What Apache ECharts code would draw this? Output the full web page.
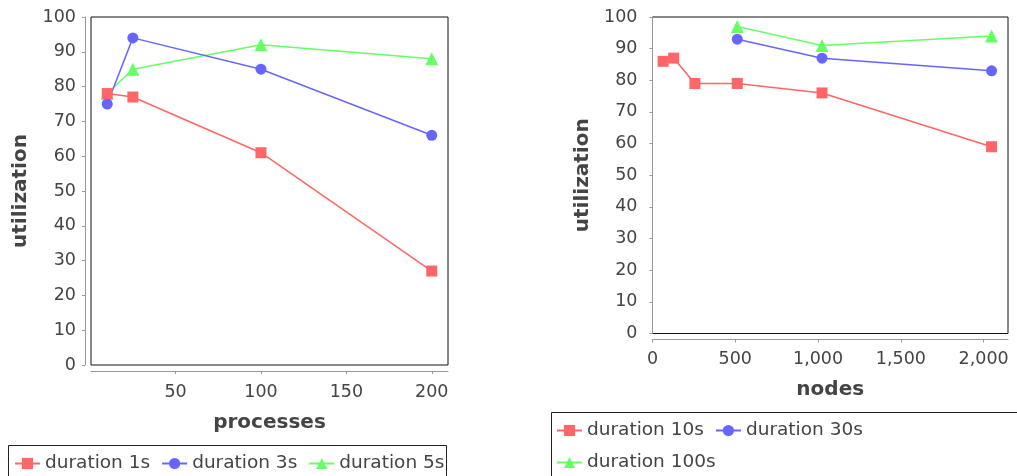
<!DOCTYPE html>
<html>
<head>
<meta charset="utf-8">
<script src="https://cdn.jsdelivr.net/npm/echarts@6/dist/echarts.min.js"></script>
<style>html,body{margin:0;padding:0;background:#fff}#c{width:1017px;height:476px}</style>
</head>
<body>
<div id="c"></div>
<script>
// Left chart: utilization vs processes
const leftX = [10, 25, 100, 200];
const left1s = [78, 77, 61, 27];
const left3s = [75, 94, 85, 66];
const left5s = [78, 85, 92, 88];
const leftXTicks = [50, 100, 150, 200];
// Right chart: utilization vs nodes
const rightX10 = [64, 128, 256, 512, 1024, 2048];
const right10s = [86, 87, 79, 79, 76, 59];
const rightX30 = [512, 1024, 2048];
const right30s = [93, 87, 83];
const rightX100 = [512, 1024, 2048];
const right100s = [97, 91, 94];

const leftNames = ['duration 1s', 'duration 3s', 'duration 5s'];
const rightNames = ['duration 10s', 'duration 30s', 'duration 100s'];

const RED = '#ff6666', BLUE = '#6666ff', GREEN = '#66ff66';
const FONT = 'DejaVu Sans';
const TXT = '#444';
const pair = (xs, ys) => xs.map((x, i) => [x, ys[i]]);

function yAxis(gi) {
  return {
    type: 'value', gridIndex: gi, min: 0, max: 100, interval: 10, offset: 6,
    name: 'utilization', nameLocation: 'middle', nameGap: 54,
    nameTextStyle: {fontFamily: FONT, fontSize: 20, fontWeight: 'bold', color: TXT},
    axisLine: {show: true, lineStyle: {color: '#999', width: 1}},
    axisTick: {show: true, length: 3, lineStyle: {color: '#999'}},
    axisLabel: {fontFamily: FONT, fontSize: 17.5, color: TXT, margin: 9},
    splitLine: {show: false}
  };
}

function series(name, xi, data, color, symbol, size, z) {
  return {
    type: 'line', name, xAxisIndex: xi, yAxisIndex: xi, data,
    symbol, symbolSize: size, z,
    itemStyle: {color},
    lineStyle: {color, width: 1.5},
    emphasis: {disabled: true},
    animation: false
  };
}

const legendBase = {
  orient: 'horizontal', itemWidth: 25, itemHeight: 14, itemGap: 11, padding: 0,
  textStyle: {fontFamily: FONT, fontSize: 18.5, color: TXT},
  selectedMode: false
};

const option = {
  backgroundColor: '#fff',
  animation: false,
  grid: [
    {left: 91, top: 17, width: 357, height: 348, show: true, borderColor: '#111', borderWidth: 1, backgroundColor: '#fff'},
    {left: 652.5, top: 17, width: 355.5, height: 316.5, show: true, borderColor: '#111', borderWidth: 1, backgroundColor: '#fff'}
  ],
  xAxis: [
    {
      type: 'value', gridIndex: 0, min: 0.5, max: 209.5, offset: 6,
      name: 'processes', nameLocation: 'middle', nameGap: 42,
      nameTextStyle: {fontFamily: FONT, fontSize: 20, fontWeight: 'bold', color: TXT},
      axisLine: {show: true, onZero: false, lineStyle: {color: '#999', width: 1}},
      axisTick: {show: true, length: 3, customValues: leftXTicks, lineStyle: {color: '#999'}},
      axisLabel: {fontFamily: FONT, fontSize: 17.5, color: TXT, margin: 12, customValues: leftXTicks},
      splitLine: {show: false}
    },
    {
      type: 'value', gridIndex: 1, min: 0, max: 2147.2, interval: 500, offset: 6,
      name: 'nodes', nameLocation: 'middle', nameGap: 40,
      nameTextStyle: {fontFamily: FONT, fontSize: 20, fontWeight: 'bold', color: TXT},
      axisLine: {show: true, onZero: false, lineStyle: {color: '#999', width: 1}},
      axisTick: {show: true, length: 3, lineStyle: {color: '#999'}},
      axisLabel: {fontFamily: FONT, fontSize: 17.5, color: TXT, margin: 11, showMaxLabel: false,
        formatter: v => v.toLocaleString('en-US')},
      splitLine: {show: false}
    }
  ],
  yAxis: [yAxis(0), yAxis(1)],
  legend: [
    Object.assign({}, legendBase, {left: 14, top: 454, data: leftNames}),
    Object.assign({}, legendBase, {left: 556, top: 421, data: rightNames.slice(0, 2)}),
    Object.assign({}, legendBase, {left: 556, top: 453, data: [rightNames[2]]})
  ],
  graphic: [
    {type: 'rect', shape: {x: 8.5, y: 445.5, width: 438, height: 60}, style: {fill: 'none', stroke: '#222', lineWidth: 1}, z: -1},
    {type: 'rect', shape: {x: 551.5, y: 412.5, width: 480, height: 100}, style: {fill: 'none', stroke: '#222', lineWidth: 1}, z: -1}
  ],
  series: [
    series(leftNames[2], 0, pair(leftX, left5s), GREEN, 'triangle', 13, 2),
    series(leftNames[1], 0, pair(leftX, left3s), BLUE, 'circle', 11, 3),
    series(leftNames[0], 0, pair(leftX, left1s), RED, 'rect', 11, 4),
    series(rightNames[2], 1, pair(rightX100, right100s), GREEN, 'triangle', 13, 2),
    series(rightNames[1], 1, pair(rightX30, right30s), BLUE, 'circle', 11, 3),
    series(rightNames[0], 1, pair(rightX10, right10s), RED, 'rect', 11, 4)
  ]
};

const chart = echarts.init(document.getElementById('c'), null, {renderer: 'canvas'});
chart.setOption(option);
</script>
</body>
</html>
